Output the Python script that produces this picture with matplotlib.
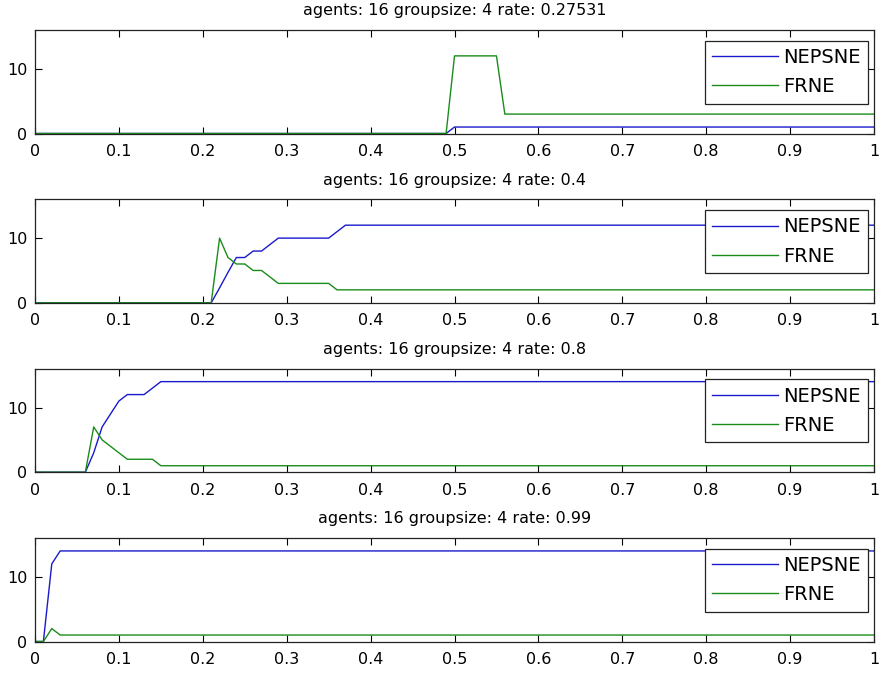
import matplotlib
matplotlib.use("Agg")
import matplotlib.pyplot as plt

agents = 16
groupsize = 4
rates = ["0.27531", "0.4", "0.8", "0.99"]

# NEPSNE / FRNE breakpoints, one pair per panel
nep_x1 = [0, 0.49, 0.50, 1.0]
nep_y1 = [0, 0, 1, 1]
fr_x1 = [0, 0.49, 0.50, 0.55, 0.56, 1.0]
fr_y1 = [0, 0, 12, 12, 3, 3]

nep_x2 = [0, 0.21, 0.22, 0.23, 0.24, 0.25, 0.26, 0.27, 0.28, 0.29, 0.35, 0.36, 0.37, 1.0]
nep_y2 = [0, 0, 2.3, 4.7, 7, 7, 8, 8, 9, 10, 10, 11, 12, 12]
fr_x2 = [0, 0.21, 0.22, 0.23, 0.24, 0.25, 0.26, 0.27, 0.28, 0.29, 0.35, 0.36, 1.0]
fr_y2 = [0, 0, 10, 7, 6, 6, 5, 5, 4, 3, 3, 2, 2]

nep_x3 = [0, 0.06, 0.07, 0.08, 0.09, 0.10, 0.11, 0.13, 0.14, 0.15, 1.0]
nep_y3 = [0, 0, 3, 7, 9, 11, 12, 12, 13, 14, 14]
fr_x3 = [0, 0.06, 0.07, 0.08, 0.09, 0.10, 0.11, 0.14, 0.15, 1.0]
fr_y3 = [0, 0, 7, 5, 4, 3, 2, 2, 1, 1]

nep_x4 = [0, 0.01, 0.02, 0.03, 1.0]
nep_y4 = [0, 0, 12, 14, 14]
fr_x4 = [0, 0.01, 0.02, 0.03, 1.0]
fr_y4 = [0, 0, 2, 1, 1]

xticks = [0, 0.1, 0.2, 0.3, 0.4, 0.5, 0.6, 0.7, 0.8, 0.9, 1.0]
xticklabels = ["0", "0.1", "0.2", "0.3", "0.4", "0.5", "0.6", "0.7", "0.8", "0.9", "1"]
yticks = [0, 10]
yticklabels = ["0", "10"]
series_names = ["NEPSNE", "FRNE"]

panels = [
    (nep_x1, nep_y1, fr_x1, fr_y1),
    (nep_x2, nep_y2, fr_x2, fr_y2),
    (nep_x3, nep_y3, fr_x3, fr_y3),
    (nep_x4, nep_y4, fr_x4, fr_y4),
]

plt.rcParams["font.family"] = ["DejaVu Sans"]

W, H = 880, 674
fig = plt.figure(figsize=(W / 100, H / 100), dpi=100)

left_px, right_px = 35, 874
tops_px = [30, 199.3, 368.7, 538]
height_px = 103.5

blue = (0.1, 0.1, 0.8)
green = (0.1, 0.55, 0.1)

for i, (nx, ny, fx, fy) in enumerate(panels):
    top = tops_px[i]
    ax = fig.add_axes([left_px / W, 1 - (top + height_px) / H,
                       (right_px - left_px) / W, height_px / H])
    ax.plot(nx, ny, color=blue, lw=1.0, label=series_names[0])
    ax.plot(fx, fy, color=green, lw=1.0, label=series_names[1])
    ax.set_xlim(0, 1)
    ax.set_ylim(0, agents)
    ax.set_xticks(xticks)
    ax.set_xticklabels(xticklabels)
    ax.set_yticks(yticks)
    ax.set_yticklabels(yticklabels)
    ax.tick_params(direction="in", length=5, width=0.8, top=True, right=True,
                   labelsize=11.5, colors="black")
    ax.tick_params(axis="x", pad=7.5)
    ax.tick_params(axis="y", pad=5.5)
    for s in ax.spines.values():
        s.set_linewidth(0.9)
        s.set_color("#222222")
    ax.set_title(f"agents: {agents} groupsize: {groupsize} rate: {rates[i]}",
                 fontsize=11.5, pad=10.5)
    leg = ax.legend(loc="upper right", bbox_to_anchor=(0.9928, 0.896),
                    borderaxespad=0, fancybox=False, framealpha=1,
                    edgecolor="#222222", fontsize=14, handlelength=3.4,
                    handletextpad=0.26, labelspacing=0.52, borderpad=0.38)
    leg.get_frame().set_linewidth(0.9)

fig.savefig("out.png", dpi=100)
